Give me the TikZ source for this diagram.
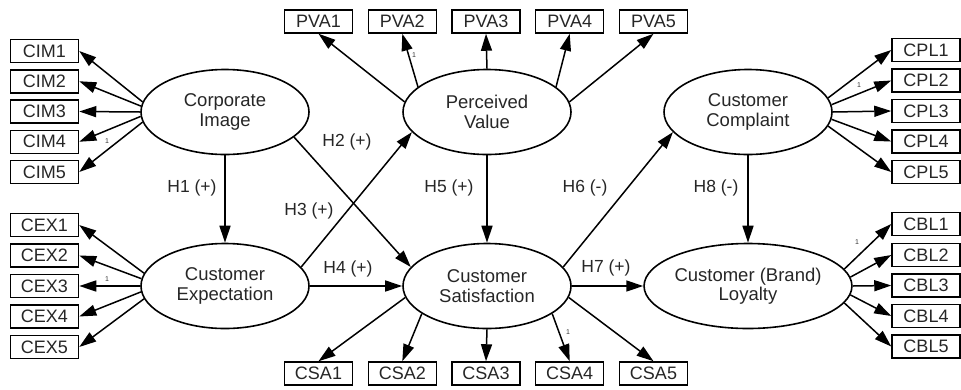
\documentclass[tikz,border=0pt]{standalone}
\usepackage{fontspec}
\setmainfont{Liberation Sans}
\usetikzlibrary{arrows.meta,shapes.geometric}
\begin{document}
\begin{tikzpicture}[x=1pt,y=-1pt,
  lat/.style={ellipse, draw, line width=1.6pt, minimum width=168pt, minimum height=85pt, inner sep=0pt, align=center, text=black!85, font=\fontsize{18.5}{19.5}\selectfont},
  ind/.style={rectangle, draw, line width=1.5pt, minimum width=68pt, minimum height=23pt, inner sep=0pt, text=black!85, font=\fontsize{18}{18}\selectfont},
  arr/.style={-{Triangle[length=17pt,width=11pt]}, line width=1.5pt},
  hyp/.style={text=black!85, font=\fontsize{17.5}{18}\selectfont},
  one/.style={text=black!80, font=\fontsize{7}{8}\selectfont, inner sep=0pt}
]
\useasboundingbox (0,0) rectangle (961,389);

% latent variables
\node[lat] (ci) at (225,112) {Corporate\\Image};
\node[lat] (ce) at (225,286) {Customer\\Expectation};
\node[lat] (pv) at (487,112) {Perceived\\Value};
\node[lat] (cs) at (487,286) {Customer\\Satisfaction};
\node[lat] (cc) at (748,112) {Customer\\Complaint};
\node[lat] (cl) at (748,286) {Customer (Brand)\\Loyalty};

% indicators left
\node[ind] (cim1) at (44.5,51) {CIM1};
\node[ind] (cim2) at (44.5,81.25) {CIM2};
\node[ind] (cim3) at (44.5,111.5) {CIM3};
\node[ind] (cim4) at (44.5,141.75) {CIM4};
\node[ind] (cim5) at (44.5,172) {CIM5};
\node[ind] (cex1) at (44.5,225) {CEX1};
\node[ind] (cex2) at (44.5,255.5) {CEX2};
\node[ind] (cex3) at (44.5,286) {CEX3};
\node[ind] (cex4) at (44.5,316.5) {CEX4};
\node[ind] (cex5) at (44.5,347) {CEX5};
% top / bottom
\node[ind] (pva1) at (318.5,21.5) {PVA1};
\node[ind] (pva2) at (402.3,21.5) {PVA2};
\node[ind] (pva3) at (486,21.5) {PVA3};
\node[ind] (pva4) at (569.7,21.5) {PVA4};
\node[ind] (pva5) at (653.5,21.5) {PVA5};
\node[ind] (csa1) at (318.5,373.5) {CSA1};
\node[ind] (csa2) at (402.3,373.5) {CSA2};
\node[ind] (csa3) at (486,373.5) {CSA3};
\node[ind] (csa4) at (569.7,373.5) {CSA4};
\node[ind] (csa5) at (653.5,373.5) {CSA5};
% right
\node[ind] (cpl1) at (926,50) {CPL1};
\node[ind] (cpl2) at (926,80.5) {CPL2};
\node[ind] (cpl3) at (926,111) {CPL3};
\node[ind] (cpl4) at (926,141.5) {CPL4};
\node[ind] (cpl5) at (926,172) {CPL5};
\node[ind] (cbl1) at (926,224) {CBL1};
\node[ind] (cbl2) at (926,255) {CBL2};
\node[ind] (cbl3) at (926,285.5) {CBL3};
\node[ind] (cbl4) at (926,316) {CBL4};
\node[ind] (cbl5) at (926,346.5) {CBL5};

% measurement arrows
\draw[arr] (ci.173) -- (cim1.east);
\draw[arr] (ci.176.5) -- (cim2.east);
\draw[arr] (ci.180) -- (cim3.east);
\draw[arr] (ci.183.5) -- (cim4.east);
\draw[arr] (ci.187) -- (cim5.east);
\draw[arr] (ce.171) -- (cex1.east);
\draw[arr] (ce.175.5) -- (cex2.east);
\draw[arr] (ce.180) -- (cex3.east);
\draw[arr] (ce.184.5) -- (cex4.east);
\draw[arr] (ce.189) -- (cex5.east);
\draw[arr] (pv.173) -- (pva1.south);
\draw[arr] (pv.160) -- (pva2.south);
\draw[arr] (pv.90) -- (pva3.south);
\draw[arr] (pv.20) -- (pva4.south);
\draw[arr] (pv.7) -- (pva5.south);
\draw[arr] (cs.188) -- (csa1.north);
\draw[arr] (cs.203) -- (csa2.north);
\draw[arr] (cs.270) -- (csa3.north);
\draw[arr] (cs.337) -- (csa4.north);
\draw[arr] (cs.352) -- (csa5.north);
\draw[arr] (cc.10) -- (cpl1.west);
\draw[arr] (cc.5) -- (cpl2.west);
\draw[arr] (cc.0) -- (cpl3.west);
\draw[arr] (cc.-5) -- (cpl4.west);
\draw[arr] (cc.-10) -- (cpl5.west);
\draw[arr] (cl.10) -- (cbl1.west);
\draw[arr] (cl.5) -- (cbl2.west);
\draw[arr] (cl.0) -- (cbl3.west);
\draw[arr] (cl.-5) -- (cbl4.west);
\draw[arr] (cl.-10) -- (cbl5.west);

% structural arrows
\draw[arr] (ci.south) -- (ce.north);
\draw[arr] (ci.-20) -- (cs.166);
\draw[arr] (ce.14) -- (pv.195);
\draw[arr] (ce.east) -- (cs.west);
\draw[arr] (pv.south) -- (cs.north);
\draw[arr] (cs.14) -- (cc.195);
\draw[arr] (cs.east) -- (cl.west);
\draw[arr] (cc.south) -- (cl.north);

% hypothesis labels
\node[hyp] (h1) at (192,188) {H1 (+)};
\node[hyp] (h2) at (347,142) {H2 (+)};
\node[hyp] (h3) at (309,211) {H3 (+)};
\node[hyp] (h4) at (348,269) {H4 (+)};
\node[hyp] (h5) at (449,188) {H5 (+)};
\node[hyp] (h6) at (585,188) {H6 (-)};
\node[hyp] (h7) at (606,268) {H7 (+)};
\node[hyp] (h8) at (716,188) {H8 (-)};

% fixed loadings
\node[one] (o1) at (107,141) {1};
\node[one] (o2) at (107,279) {1};
\node[one] (o3) at (414,55) {1};
\node[one] (o4) at (568,332) {1};
\node[one] (o5) at (859,85) {1};
\node[one] (o6) at (857,242) {1};
\end{tikzpicture}
\end{document}
